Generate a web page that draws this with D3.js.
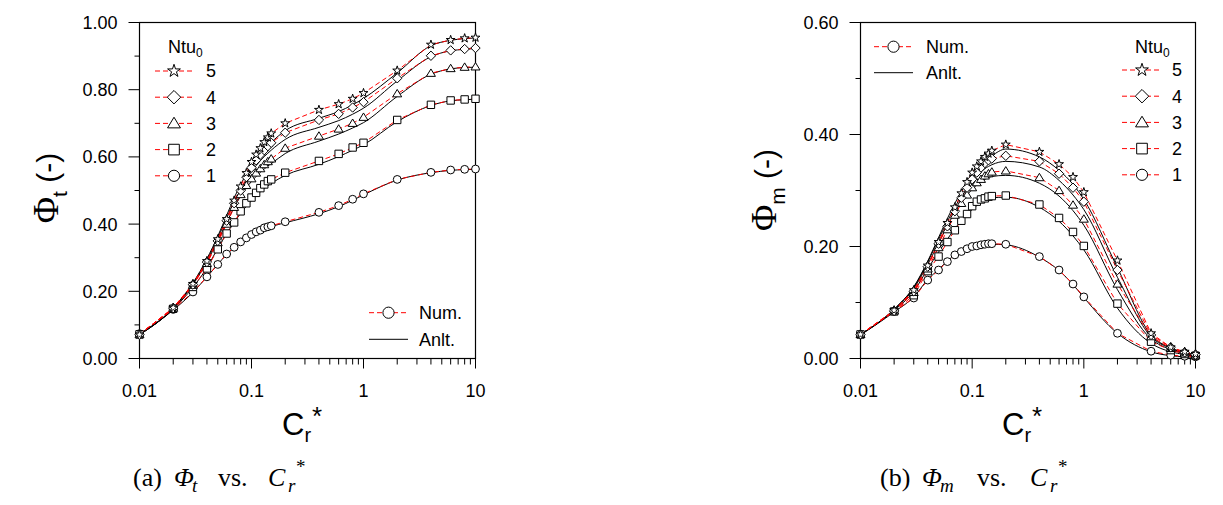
<!DOCTYPE html>
<html><head><meta charset="utf-8">
<script src="https://cdn.jsdelivr.net/npm/d3@7"></script>
<style>body{margin:0;background:#fff}svg{display:block}</style>
</head><body>
<svg id="c" width="1223" height="505"></svg>
<script>
// ---------- data ----------
const crValues = [0.01,0.02,0.03,0.04,0.05,0.06,0.07,0.08,0.09,0.1,0.11,0.12,0.13,0.14,0.15,0.2,0.4,0.6,0.8,1,2,4,6,8,10];
const ntuLabels = ["5","4","3","2","1"];
const markerTypes = ["star","diamond","triangle","square","circle"];
const xTickMajor = [0.01,0.1,1,10];
const xTickLabels = ["0.01","0.1","1","10"];
const yTicksT = [0,0.1,0.2,0.3,0.4,0.5,0.6,0.7,0.8,0.9,1.0];
const yLabelsT = [0,0.2,0.4,0.6,0.8,1.0];
const yTicksM = [0,0.1,0.2,0.3,0.4,0.5,0.6];
const yLabelsM = [0,0.2,0.4,0.6];

// (a) Phi_t numerical (Ntu0 = 5,4,3,2,1)
const numT5 = [0.071,0.151,0.222,0.290,0.355,0.415,0.470,0.512,0.552,0.585,0.607,0.626,0.644,0.658,0.670,0.700,0.740,0.757,0.773,0.790,0.857,0.934,0.948,0.953,0.955];
const numT4 = [0.071,0.150,0.220,0.287,0.350,0.410,0.462,0.500,0.540,0.568,0.590,0.607,0.620,0.632,0.642,0.672,0.710,0.728,0.747,0.763,0.834,0.901,0.917,0.921,0.924];
const numT3 = [0.071,0.150,0.218,0.283,0.345,0.400,0.450,0.488,0.515,0.535,0.552,0.565,0.577,0.586,0.594,0.626,0.662,0.683,0.700,0.718,0.788,0.849,0.863,0.867,0.868];
const numT2 = [0.072,0.148,0.213,0.268,0.325,0.372,0.405,0.438,0.462,0.479,0.493,0.507,0.518,0.528,0.533,0.553,0.588,0.609,0.628,0.642,0.710,0.755,0.768,0.771,0.773];
const numT1 = [0.074,0.146,0.198,0.243,0.280,0.311,0.331,0.347,0.359,0.369,0.377,0.382,0.389,0.392,0.395,0.407,0.435,0.455,0.474,0.490,0.533,0.554,0.561,0.563,0.564];
// (a) Phi_t analytical
const anlT5 = [0.071,0.151,0.225,0.297,0.364,0.426,0.478,0.518,0.549,0.574,0.593,0.609,0.622,0.633,0.643,0.678,0.715,0.735,0.755,0.774,0.850,0.931,0.947,0.952,0.954];
const anlT4 = [0.071,0.150,0.223,0.293,0.358,0.418,0.466,0.503,0.533,0.556,0.574,0.589,0.601,0.611,0.620,0.652,0.688,0.708,0.727,0.745,0.826,0.898,0.916,0.920,0.923];
const anlT3 = [0.071,0.149,0.220,0.288,0.350,0.405,0.450,0.483,0.508,0.527,0.542,0.554,0.564,0.573,0.580,0.610,0.647,0.668,0.686,0.702,0.780,0.846,0.862,0.866,0.867];
const anlT2 = [0.072,0.147,0.212,0.270,0.328,0.372,0.405,0.432,0.453,0.470,0.484,0.496,0.506,0.514,0.521,0.545,0.578,0.601,0.620,0.636,0.705,0.753,0.767,0.770,0.772];
const anlT1 = [0.073,0.144,0.197,0.243,0.280,0.310,0.330,0.346,0.358,0.368,0.375,0.381,0.386,0.390,0.393,0.404,0.431,0.452,0.471,0.487,0.531,0.553,0.560,0.562,0.563];

// (b) Phi_m numerical
const numM5 = [0.043,0.086,0.122,0.166,0.208,0.242,0.270,0.295,0.315,0.332,0.343,0.352,0.360,0.366,0.371,0.382,0.369,0.347,0.324,0.297,0.175,0.045,0.020,0.012,0.008];
const numM4 = [0.043,0.085,0.120,0.164,0.205,0.236,0.263,0.287,0.305,0.320,0.332,0.341,0.349,0.354,0.357,0.362,0.352,0.330,0.305,0.280,0.158,0.042,0.020,0.011,0.007];
const numM3 = [0.043,0.085,0.118,0.160,0.198,0.230,0.256,0.277,0.292,0.305,0.314,0.320,0.326,0.330,0.333,0.335,0.323,0.300,0.274,0.249,0.133,0.039,0.018,0.010,0.006];
const numM2 = [0.043,0.084,0.113,0.156,0.182,0.208,0.229,0.246,0.258,0.272,0.280,0.284,0.286,0.289,0.290,0.291,0.275,0.251,0.226,0.201,0.098,0.030,0.015,0.008,0.005];
const numM1 = [0.043,0.084,0.108,0.140,0.158,0.173,0.185,0.191,0.196,0.200,0.201,0.203,0.204,0.205,0.205,0.204,0.182,0.158,0.133,0.110,0.045,0.013,0.006,0.004,0.003];
// (b) Phi_m analytical
const anlM5 = [0.043,0.088,0.128,0.174,0.216,0.250,0.277,0.298,0.315,0.329,0.339,0.347,0.353,0.358,0.362,0.374,0.360,0.336,0.311,0.284,0.162,0.042,0.019,0.011,0.007];
const anlM4 = [0.043,0.088,0.127,0.172,0.213,0.245,0.270,0.290,0.305,0.317,0.326,0.333,0.339,0.343,0.346,0.352,0.342,0.318,0.292,0.266,0.145,0.039,0.018,0.010,0.006];
const anlM3 = [0.043,0.087,0.125,0.168,0.206,0.237,0.261,0.279,0.292,0.302,0.310,0.316,0.320,0.323,0.325,0.327,0.313,0.290,0.264,0.238,0.123,0.035,0.016,0.009,0.005];
const anlM2 = [0.043,0.086,0.120,0.160,0.190,0.213,0.232,0.246,0.257,0.266,0.273,0.278,0.282,0.285,0.287,0.288,0.270,0.245,0.219,0.194,0.090,0.027,0.012,0.007,0.004];
const anlM1 = [0.042,0.083,0.110,0.141,0.159,0.174,0.185,0.191,0.196,0.199,0.201,0.202,0.203,0.204,0.204,0.203,0.181,0.157,0.132,0.109,0.045,0.012,0.005,0.003,0.002];

// ---------- drawing ----------
const svg = d3.select("#c");
const SANS = "'Liberation Sans', Arial, sans-serif";
const SERIF = "'Liberation Serif', 'Times New Roman', serif";
const RED = "#ff0000";

function markerPath(type, s) {
  // s: nominal half-size
  if (type === "circle") return d3.symbol(d3.symbolCircle, Math.PI * s * s)();
  if (type === "square") { const h = s * 0.95; return `M${-h},${-h}H${h}V${h}H${-h}Z`; }
  if (type === "triangle") { const w = s * 1.15, h = s * 1.9; return `M0,${-h*0.58}L${w},${h*0.42}L${-w},${h*0.42}Z`; }
  if (type === "diamond") { const r = s * 1.2; return `M0,${-r}L${r},0L0,${r}L${-r},0Z`; }
  if (type === "star") { const r = s * 1.2; return d3.symbol(d3.symbolStar, r * r / 0.8908130915292852)(); }
}
function drawMarker(g, type, x, y, s) {
  g.append("path").attr("d", markerPath(type, s))
    .attr("transform", `translate(${x},${y})`)
    .attr("fill", "#fff").attr("stroke", "#000").attr("stroke-width", 1);
}

function panel(cfg) {
  const x = d3.scaleLog().domain([0.01, 10]).range(cfg.xr);
  const y = d3.scaleLinear().domain([0, cfg.ymax]).range([358.5, 22.5]);
  const g = svg.append("g");

  // y ticks
  const yAx = g.append("g").attr("transform", `translate(${cfg.xr[0]},0)`);
  cfg.yTicks.forEach(v => {
    const major = cfg.yLabels.some(l => Math.abs(l - v) < 1e-9);
    yAx.append("line").attr("x1", major ? -11 : -5).attr("x2", 0)
      .attr("y1", y(v)).attr("y2", y(v)).attr("stroke", "#000");
  });
  cfg.yLabels.forEach(v => {
    yAx.append("text").attr("x", -22).attr("y", y(v)).attr("dy", "0.36em")
      .attr("text-anchor", "end").attr("font-family", SANS).attr("font-size", 18)
      .text(d3.format(".2f")(v));
  });

  // x ticks (log)
  const xAx = g.append("g").attr("transform", `translate(0,358.5)`);
  const minor = [];
  [0.01, 0.1, 1].forEach(d => { for (let k = 2; k <= 9; k++) minor.push(d * k); });
  minor.forEach(v => xAx.append("line").attr("x1", x(v)).attr("x2", x(v)).attr("y1", 0).attr("y2", 6).attr("stroke", "#000"));
  xTickMajor.forEach((v, i) => {
    xAx.append("line").attr("x1", x(v)).attr("x2", x(v)).attr("y1", 0).attr("y2", 10).attr("stroke", "#000");
    xAx.append("text").attr("x", x(v)).attr("y", 38).attr("text-anchor", "middle")
      .attr("font-family", SANS).attr("font-size", 18).text(xTickLabels[i]);
  });

  // frame
  g.append("rect").attr("x", cfg.xr[0]).attr("y", 22.5)
    .attr("width", cfg.xr[1] - cfg.xr[0]).attr("height", 336)
    .attr("fill", "none").attr("stroke", "#000").attr("stroke-width", 1.2);

  // curves
  const lineA = d3.line().x((d, i) => x(crValues[i])).y(d => y(d)).curve(d3.curveMonotoneX);
  const lineN = d3.line().x((d, i) => x(crValues[i])).y(d => y(d));
  cfg.anl.forEach(arr => g.append("path").attr("d", lineA(arr)).attr("fill", "none").attr("stroke", "#000").attr("stroke-width", 1));
  cfg.num.forEach(arr => g.append("path").attr("d", lineN(arr)).attr("fill", "none").attr("stroke", RED).attr("stroke-width", 1).attr("stroke-dasharray", "5,3"));
  const order = [4, 3, 2, 1, 0];
  order.forEach(si => {
    cfg.num[si].forEach((v, i) => drawMarker(g, markerTypes[si], x(crValues[i]), y(v), 3.9));
  });

  // axis titles
  const yt = g.append("text").attr("transform", `translate(${cfg.ytx},${cfg.yty}) rotate(-90)`)
    .attr("text-anchor", "middle").attr("font-family", SANS);
  yt.append("tspan").attr("font-family", SERIF).attr("font-size", 36).text("Φ");
  yt.append("tspan").attr("font-size", 21).attr("dy", 9).text(cfg.ysub);
  yt.append("tspan").attr("font-size", 30).attr("dy", -9).text(" (-)");

  const xt = g.append("text").attr("x", cfg.xtx).attr("y", 435).attr("font-family", SANS);
  xt.append("tspan").attr("font-size", 31).text("C");
  xt.append("tspan").attr("font-size", 20).attr("dy", 7).text("r");
  xt.append("tspan").attr("font-size", 26).attr("dy", -17).attr("dx", 1).text("*");

  // caption
  const cap = cfg.cap;
  const ct = (xx, yy, t, opts) => {
    const e = g.append("text").attr("x", xx).attr("y", yy).attr("font-family", SERIF).attr("font-size", opts.size || 26).text(t);
    if (opts.italic) e.attr("font-style", "italic");
    return e;
  };
  ct(cap.x0, 486, cap.lab, {});
  ct(cap.xPhi, 486, "Φ", { italic: true });
  ct(cap.xSub, 492, cap.sub, { italic: true, size: 19 });
  ct(cap.xVs, 486, "vs.", {});
  ct(cap.xC, 486, "C", { italic: true });
  ct(cap.xC + 20, 492, "r", { italic: true, size: 19 });
  ct(cap.xC + 28, 473, "*", { size: 19 });

  // Ntu legend
  const L = cfg.ntuLeg;
  const nt = g.append("text").attr("x", L.tx).attr("y", 52.7).attr("font-family", SANS).attr("font-size", 18);
  nt.append("tspan").text("Ntu");
  nt.append("tspan").attr("font-size", 12).attr("dy", 4).text("0");
  ntuLabels.forEach((lab, i) => {
    const ry = L.y0 + i * 26.2;
    g.append("line").attr("x1", L.l0).attr("x2", L.l1).attr("y1", ry).attr("y2", ry)
      .attr("stroke", RED).attr("stroke-dasharray", "5,3");
    drawMarker(g, markerTypes[i], (L.l0 + L.l1) / 2, ry, 5.6);
    g.append("text").attr("x", L.nx).attr("y", ry).attr("dy", "0.35em")
      .attr("font-family", SANS).attr("font-size", 18).text(lab);
  });

  // Num / Anlt legend
  const M = cfg.numLeg;
  g.append("line").attr("x1", M.l0).attr("x2", M.l1).attr("y1", M.y0).attr("y2", M.y0)
    .attr("stroke", RED).attr("stroke-dasharray", "5,3");
  drawMarker(g, "circle", (M.l0 + M.l1) / 2, M.y0, 5.6);
  g.append("text").attr("x", M.tx).attr("y", M.y0).attr("dy", "0.36em").attr("font-family", SANS).attr("font-size", 18).text("Num.");
  g.append("line").attr("x1", M.l0).attr("x2", M.l1).attr("y1", M.y1).attr("y2", M.y1).attr("stroke", "#000");
  g.append("text").attr("x", M.tx).attr("y", M.y1).attr("dy", "0.36em").attr("font-family", SANS).attr("font-size", 18).text("Anlt.");
}

panel({
  xr: [139.5, 475.5], ymax: 1.0, yTicks: yTicksT, yLabels: yLabelsT,
  num: [numT5, numT4, numT3, numT2, numT1], anl: [anlT5, anlT4, anlT3, anlT2, anlT1],
  ytx: 58, yty: 188, ysub: "t", xtx: 282,
  cap: { x0: 133, lab: "(a)", xPhi: 174, xSub: 192, sub: "t", xVs: 218, xC: 268 },
  ntuLeg: { tx: 168, y0: 71, l0: 155, l1: 193, nx: 206 },
  numLeg: { y0: 312.7, y1: 339.3, l0: 369, l1: 408, tx: 419 }
});
panel({
  xr: [860.5, 1195.5], ymax: 0.6, yTicks: yTicksM, yLabels: yLabelsM,
  num: [numM5, numM4, numM3, numM2, numM1], anl: [anlM5, anlM4, anlM3, anlM2, anlM1],
  ytx: 776, yty: 190, ysub: "m", xtx: 1002,
  cap: { x0: 880, lab: "(b)", xPhi: 922, xSub: 940, sub: "m", xVs: 977, xC: 1030 },
  ntuLeg: { tx: 1135, y0: 70, l0: 1122, l1: 1162, nx: 1172 },
  numLeg: { y0: 46.7, y1: 72.7, l0: 874, l1: 913, tx: 926 }
});
</script>
</body></html>
